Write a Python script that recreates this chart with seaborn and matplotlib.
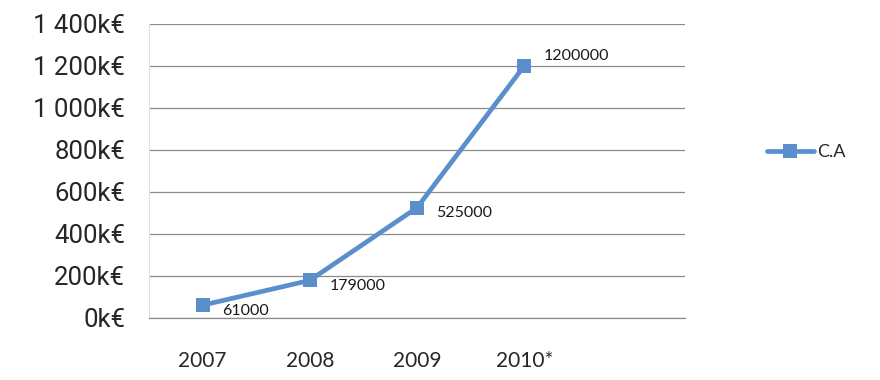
import seaborn as sns
from matplotlib import pyplot as plt
from matplotlib.ticker import FixedLocator, FuncFormatter
from matplotlib import font_manager
import pandas as pd

years = ['2007', '2008', '2009', '2010*']
ca = [61000, 179000, 525000, 1200000]
y_ticks = [0, 200000, 400000, 600000, 800000, 1000000, 1200000, 1400000]

sns.set_style('white')
plt.rcParams['font.family'] = ['Lato', 'DejaVu Sans']

names = {f.name for f in font_manager.fontManager.ttflist}
narrow = [n for n in ['Liberation Sans Narrow', 'DejaVu Sans Condensed', 'Roboto'] if n in names]
print(narrow)

df = pd.DataFrame({'annee': years, 'CA': ca})
df['pos'] = range(len(df))

fig = plt.figure(figsize=(8.8, 3.8), dpi=100)
ax = fig.add_axes([0.1693, 0.1632, 0.6091, 0.7737])

blue = '#5A8FCC'
sns.lineplot(data=df, x='pos', y='CA', ax=ax, color=blue, lw=3.4, marker='s',
             markersize=10, markeredgewidth=0, label='C.A', legend=False)

ax.set_xlim(-0.5, 4.5)
ax.set_ylim(0, 1400000)
ax.set_xlabel('')
ax.set_ylabel('')

ax.yaxis.set_major_locator(FixedLocator(y_ticks))
ax.yaxis.set_major_formatter(
    FuncFormatter(lambda v, p: f'{v / 1000:,.0f}'.replace(',', ' ') + 'k€'))
ax.grid(axis='y', color='#8c8c8c', lw=0.9)
ax.set_axisbelow(True)

ax.set_xticks(range(len(years)))
ax.set_xticklabels(years)
ax.set_xticks([i - 0.5 for i in range(6)], minor=True)
ax.tick_params(axis='x', which='major', length=0, pad=24, labelsize=15)
ax.tick_params(axis='x', which='minor', length=6, width=0.9, color='#8c8c8c', direction='out')
ax.tick_params(axis='y', length=5, width=0.9, color='#e0e0e0', pad=12, labelsize=18.5,
               labelfontfamily=narrow[0] if narrow else 'DejaVu Sans')

for s in ['top', 'right']:
    ax.spines[s].set_visible(False)
ax.spines['left'].set_color('#e0e0e0')
ax.spines['bottom'].set_color('#8c8c8c')
ax.spines['bottom'].set_linewidth(0.9)

offsets = [(14, -4), (14, -4), (14, -4), (14, 7)]
for i, v in enumerate(ca):
    ax.annotate(str(v), (i, v), xytext=offsets[i], textcoords='offset points',
                ha='left', va='center', fontsize=11.5, color='#1a1a1a')

leg = fig.legend(handles=ax.get_lines()[:1], labels=['C.A'], loc='center left',
                 bbox_to_anchor=(0.853, 0.6), frameon=False, fontsize=13,
                 handlelength=2.6, handletextpad=0.2)

fig.savefig('out.png', dpi=100)
